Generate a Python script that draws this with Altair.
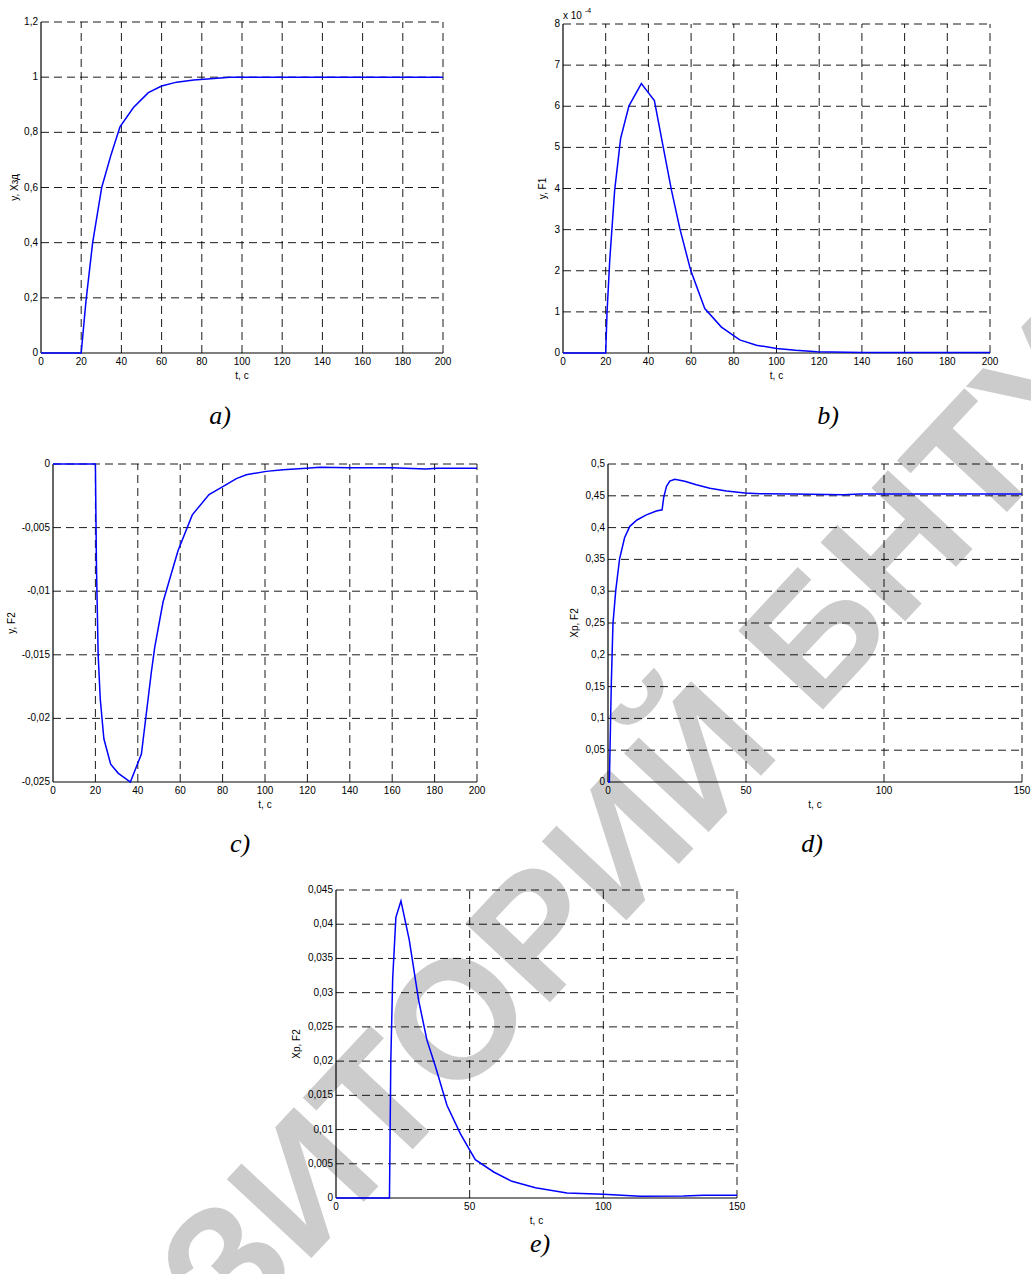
import altair as alt
import pandas as pd

W, H = 1031, 1274

# ---------------- data ----------------
# a) y, Xзд
a_t = [0, 20, 22.4, 25.7, 30.2, 34.9, 39.3, 46, 53.4, 60, 67.5, 76, 86, 94, 200]
a_y = [0, 0, 0.19, 0.40, 0.60, 0.72, 0.82, 0.89, 0.944, 0.968, 0.982, 0.99, 0.995, 1.0, 1.0]

# b) y, F1  (values in units of 1e-4)
b_t = [0, 20, 20.6, 21.9, 24.2, 27, 30.9, 36.7, 42.8, 46.9, 50.8, 54.7, 59.8, 66.4,
       74.2, 82.8, 90.6, 100, 109, 119, 140, 200]
b_y = [0, 0, 0.96, 2.26, 3.96, 5.22, 6.01, 6.55, 6.14, 5.02, 3.96, 3.03, 2.01, 1.08,
       0.63, 0.32, 0.19, 0.11, 0.065, 0.03, 0.015, 0.01]

# c) y, F2
c_t = [0, 20, 20.5, 21.3, 22.3, 24, 27.2, 30.7, 36.5, 41.7, 46.4, 48, 51.9, 59, 65.7,
       73.6, 79.9, 86.5, 91.2, 100.6, 108.5, 119.5, 125.8, 140, 160, 176, 181, 200]
c_y = [0, 0, -0.008, -0.015, -0.0185, -0.0216, -0.0236, -0.0243, -0.025, -0.0228,
       -0.01635, -0.0144, -0.01085, -0.0068, -0.004, -0.0024, -0.0018, -0.00115,
       -0.00084, -0.00058, -0.00045, -0.00034, -0.00026, -0.0003, -0.0003, -0.0004,
       -0.00034, -0.00034]

# d) Xp, F2
d_t = [0, 0.5, 1.2, 1.8, 2.8, 4.2, 6, 7.9, 10.5, 13.9, 17.5, 19.6, 20.2, 21.2, 22.4,
       24.2, 27.8, 32, 36.9, 42.9, 49.6, 55, 67, 85.3, 91.3, 150]
d_y = [0, 0, 0.155, 0.249, 0.301, 0.351, 0.384, 0.402, 0.412, 0.42, 0.426, 0.428,
       0.448, 0.465, 0.473, 0.476, 0.473, 0.4675, 0.462, 0.4575, 0.4544, 0.4533,
       0.4528, 0.4518, 0.4528, 0.4528]

# e) Xp, F2
e_t = [0, 20, 20.5, 21.2, 22.4, 24.3, 27.4, 30.9, 34, 37.2, 41.5, 46.5, 52.1, 59,
       65.8, 74.6, 86.4, 100, 113.8, 130, 137.5, 150]
e_y = [0, 0, 0.02, 0.032, 0.041, 0.0434, 0.0377, 0.0289, 0.0231, 0.0192, 0.01355,
       0.0094, 0.0056, 0.0038, 0.00244, 0.0015, 0.00073, 0.00054, 0.00024, 0.0003,
       0.0004, 0.0004]

# tick values
x_ticks_200 = [0, 20, 40, 60, 80, 100, 120, 140, 160, 180, 200]
x_ticks_150 = [0, 50, 100, 150]
a_yticks = [0, 0.2, 0.4, 0.6, 0.8, 1.0, 1.2]
b_yticks = [0, 1, 2, 3, 4, 5, 6, 7, 8]
c_yticks = [-0.025, -0.02, -0.015, -0.01, -0.005, 0]
d_yticks = [0, 0.05, 0.1, 0.15, 0.2, 0.25, 0.3, 0.35, 0.4, 0.45, 0.5]
e_yticks = [0, 0.005, 0.01, 0.015, 0.02, 0.025, 0.03, 0.035, 0.04, 0.045]

captions = ["a)", "b)", "c)", "d)", "e)"]
x_title = "t, c"
y_titles = ["y, Xзд", "y, F1", "y, F2", "Xp, F2", "Xp, F2"]
exponent = ["x 10", "-4"]
watermark = "РЕПОЗИТОРИЙ БНТУ"

FONT = "Liberation Sans"
FS = 10
GRID = dict(color="#000000", strokeDash=[8, 5], strokeWidth=0.9)


def lab(v):
    return f"{v:g}".replace(".", ",")


def panel(t, v, xdom, ydom, xticks, yticks, xr, yr, ytitle, ytitle_gap):
    xs = alt.Scale(domain=xdom, range=xr, nice=False, zero=False)
    ys = alt.Scale(domain=ydom, range=yr, nice=False, zero=False)

    def X(f):
        return alt.X(f, type="quantitative", scale=xs, axis=None)

    def Y(f):
        return alt.Y(f, type="quantitative", scale=ys, axis=None)

    # dashed grid (MATLAB style: top and right edges are grid lines too)
    vg = pd.DataFrame({"t": [x for x in xticks if x != xdom[0]]})
    vg["lo"], vg["hi"] = ydom[0], ydom[1]
    hg = pd.DataFrame({"v": [y for y in yticks if y != ydom[0]]})
    hg["lo"], hg["hi"] = xdom[0], xdom[1]
    vrule = alt.Chart(vg).mark_rule(**GRID).encode(x=X("t"), y=Y("lo"), y2="hi")
    hrule = alt.Chart(hg).mark_rule(**GRID).encode(y=Y("v"), x=X("lo"), x2="hi")

    # solid axis lines (left and bottom)
    av = pd.DataFrame({"t": [xdom[0]], "lo": [ydom[0]], "hi": [ydom[1]]})
    ah = pd.DataFrame({"v": [ydom[0]], "lo": [xdom[0]], "hi": [xdom[1]]})
    axv = alt.Chart(av).mark_rule(color="black", strokeWidth=1.2).encode(x=X("t"), y=Y("lo"), y2="hi")
    axh = alt.Chart(ah).mark_rule(color="black", strokeWidth=1.2).encode(y=Y("v"), x=X("lo"), x2="hi")

    # tick labels
    xl = pd.DataFrame({"t": xticks, "lab": [lab(x) for x in xticks]})
    xl["v"] = ydom[0]
    yl = pd.DataFrame({"v": yticks, "lab": [lab(y) for y in yticks]})
    yl["t"] = xdom[0]
    xlab = alt.Chart(xl).mark_text(font=FONT, fontSize=FS, color="black", baseline="middle",
                                   align="center", dy=9).encode(x=X("t"), y=Y("v"), text="lab:N")
    ylab = alt.Chart(yl).mark_text(font=FONT, fontSize=FS, color="black", baseline="middle",
                                   align="right", dx=-3).encode(x=X("t"), y=Y("v"), text="lab:N")

    # axis titles
    xt = pd.DataFrame({"t": [(xdom[0] + xdom[1]) / 2], "v": [ydom[0]], "s": [x_title]})
    yt = pd.DataFrame({"t": [xdom[0]], "v": [(ydom[0] + ydom[1]) / 2], "s": [ytitle]})
    xtit = alt.Chart(xt).mark_text(font=FONT, fontSize=FS, color="black", baseline="middle",
                                   align="center", dy=23).encode(x=X("t"), y=Y("v"), text="s:N")
    ytit = alt.Chart(yt).mark_text(font=FONT, fontSize=FS, color="black", baseline="middle",
                                   align="center", angle=270, dy=-ytitle_gap).encode(
        x=X("t"), y=Y("v"), text="s:N")

    df = pd.DataFrame({"t": t, "v": v})
    line = alt.Chart(df).mark_line(color="#0000ff", strokeWidth=1.5).encode(x=X("t"), y=Y("v"))
    return alt.layer(vrule, hrule, axv, axh, xlab, ylab, xtit, ytit, line)


pa = panel(a_t, a_y, [0, 200], [0, 1.2], x_ticks_200, a_yticks, [41, 443], [353, 22], y_titles[0], 26)
pb = panel(b_t, b_y, [0, 200], [0, 8], x_ticks_200, b_yticks, [563, 990], [353, 24], y_titles[1], 20)
pc = panel(c_t, c_y, [0, 200], [-0.025, 0], x_ticks_200, c_yticks, [53, 477], [782, 464], y_titles[2], 41)
pd_ = panel(d_t, d_y, [0, 150], [0, 0.5], x_ticks_150, d_yticks, [608, 1022], [782, 464], y_titles[3], 33)
pe = panel(e_t, e_y, [0, 150], [0, 0.045], x_ticks_150, e_yticks, [336, 737], [1198, 890], y_titles[4], 39)

wm = alt.Chart(pd.DataFrame({"s": [watermark]})).mark_text(
    font=FONT, fontWeight="bold", fontSize=168, color="#cccccc",
    angle=313, align="center", baseline="middle",
).encode(text="s:N", x=alt.value(478), y=alt.value(1006))

exp_base = alt.Chart().mark_text(
    text=exponent[0], font=FONT, fontSize=FS, color="black", align="left", baseline="alphabetic"
).encode(x=alt.value(563), y=alt.value(19))
exp_sup = alt.Chart().mark_text(
    text=exponent[1], font=FONT, fontSize=7, color="black", align="left", baseline="alphabetic"
).encode(x=alt.value(585), y=alt.value(13))

cap_pos = [(220, 424), (828, 424), (240, 852), (812, 852), (540, 1252)]
caps = [
    alt.Chart().mark_text(
        text=c, font="Liberation Serif", fontStyle="italic", fontSize=26,
        align="center", baseline="alphabetic", color="black",
    ).encode(x=alt.value(p[0]), y=alt.value(p[1]))
    for c, p in zip(captions, cap_pos)
]

chart = alt.layer(wm, pa, pb, pc, pd_, pe, exp_base, exp_sup, *caps).resolve_scale(
    x="independent", y="independent"
).properties(
    width=W, height=H, autosize=alt.AutoSizeParams(type="none"), padding=0
).configure_view(stroke=None)

chart.save("out.html", embed_options={"renderer": "svg", "actions": False})
